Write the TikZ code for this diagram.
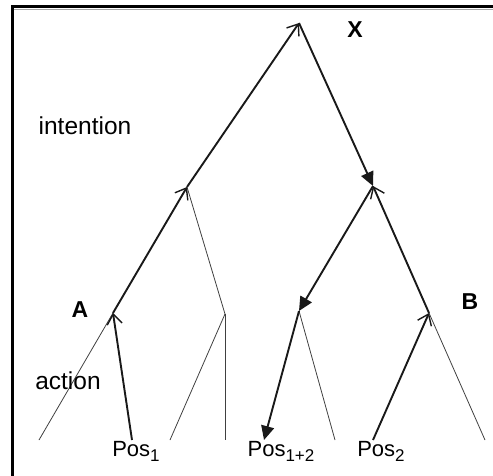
\documentclass[tikz,border=0pt]{standalone}
\usepackage{fontspec}
\setmainfont{Liberation Sans}
\usetikzlibrary{arrows.meta}
\newcommand{\subtx}[1]{\raisebox{-5pt}{\fontsize{17}{19}\selectfont #1}}
\begin{document}
\begin{tikzpicture}[x=1pt,y=-1pt,
  thickline/.style={line width=1.9pt,draw=black!90},
  thinline/.style={line width=0.8pt,draw=black!75},
  openarr/.style={-{Straight Barb[length=10pt,width=15pt,line width=1.4pt]}},
  fillarr/.style={-{Triangle[length=14pt,width=13pt]}},
  lab/.style={font=\fontsize{24.5}{27}\selectfont,inner sep=0pt},
  poslab/.style={font=\fontsize{22}{24}\selectfont,inner sep=0pt,anchor=north},
  bold/.style={font=\fontsize{23}{26}\selectfont\bfseries,inner sep=0pt}]
\useasboundingbox (0,0) rectangle (493,476);
% frame
\draw[line width=3pt] (12,476) -- (12,7) -- (493,7);
\draw[line width=0.6pt,black!35] (13.5,9.5) -- (493,9.5);
% tree points
\coordinate (X) at (299,23);
\coordinate (L1) at (187,187);
\coordinate (R1) at (373,186);
\coordinate (A) at (113,313);
\coordinate (L2) at (225,314);
\coordinate (R2) at (299,311);
\coordinate (B) at (429,313);
\coordinate (a1) at (39,440);
\coordinate (p1) at (132,440);
\coordinate (l2a) at (170,440);
\coordinate (l2b) at (225,440);
\coordinate (p12) at (264,440);
\coordinate (r2b) at (335,440);
\coordinate (p2) at (373,440);
\coordinate (bb) at (485,440);
% thin lines
\draw[thinline] (A) -- (a1);
\draw[thinline] (L1) -- (L2);
\draw[thinline] (L2) -- (l2a);
\draw[thinline] (L2) -- (l2b);
\draw[thinline] (R2) -- (r2b);
\draw[thinline] (B) -- (bb);
% thick arrowed lines
\draw[thickline,openarr] (L1) -- (X);
\draw[thickline,fillarr] (X) -- (R1);
\draw[thickline,openarr] (A) -- (L1);
\draw[thickline,openarr] (p1) -- (A);
\draw[thickline,openarr] (B) -- (R1);
\draw[thickline,fillarr] (R1) -- (R2);
\draw[thickline,fillarr] (R2) -- (p12);
\draw[thickline,openarr] (p2) -- (B);
% labels
\node[bold] (xl) at (355,30) {X};
\node[bold] (al) at (80,310) {A};
\node[bold] (bl) at (470,302) {B};
\node[lab] (int) at (85,126) {intention};
\node[lab] (act) at (68,381) {action};
\node[poslab] (pos1) at (136,441) {Pos\subtx{1}};
\node[poslab] (pos12) at (281,441) {Pos\subtx{1+2}};
\node[poslab] (pos2) at (381,441) {Pos\subtx{2}};
\end{tikzpicture}
\end{document}
